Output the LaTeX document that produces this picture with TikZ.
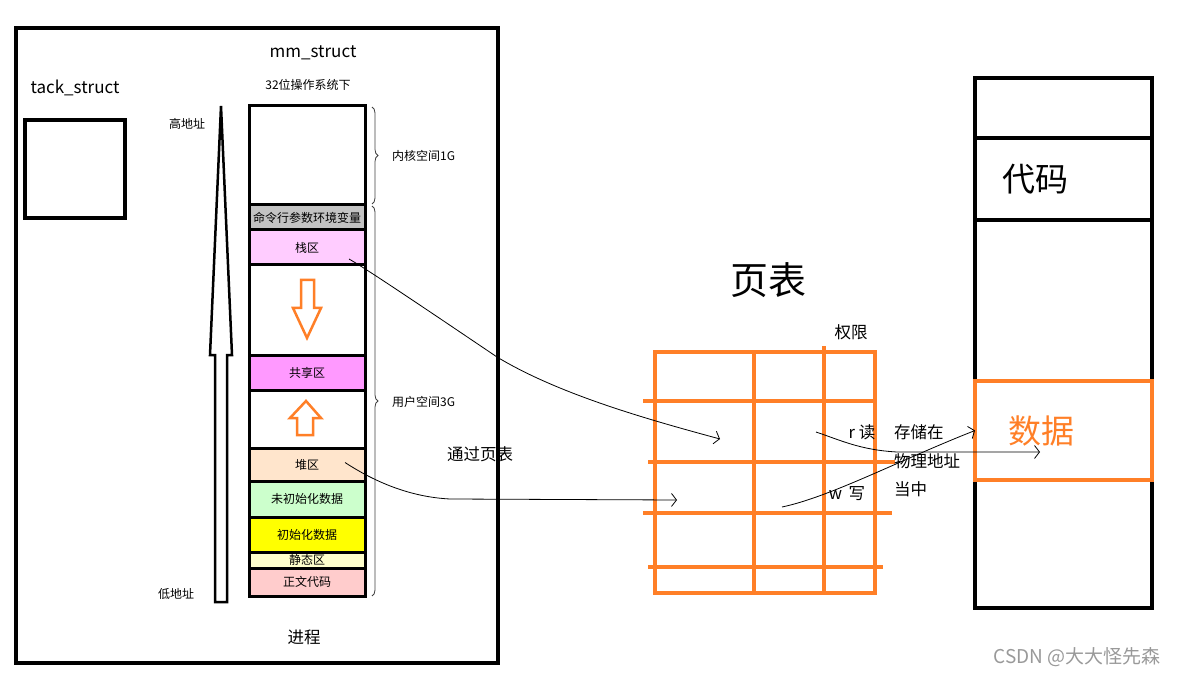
\documentclass[tikz,border=0pt]{standalone}
\usepackage{fontspec}
\setmainfont{Noto Sans CJK SC}
\usetikzlibrary{positioning, arrows.meta, calc, decorations.pathreplacing}
\definecolor{paintorange}{RGB}{255,127,39}
\definecolor{segcmd}{RGB}{195,195,195}
\definecolor{segstack}{RGB}{255,204,255}
\definecolor{segshared}{RGB}{255,153,255}
\definecolor{segheap}{RGB}{255,229,204}
\definecolor{segbss}{RGB}{204,255,204}
\definecolor{segdata}{RGB}{255,255,0}
\definecolor{segstatic}{RGB}{255,255,204}
\definecolor{segtext}{RGB}{255,204,204}

\begin{document}
\begin{tikzpicture}[
    x=1pt, y=-1pt,
    seg/.style={
        rectangle, draw=black, line width=3pt, fill=#1,
        minimum width=116pt, inner sep=0pt, outer sep=0pt,
        font=\fontsize{12}{14}\selectfont
    },
    mem/.style={
        rectangle, draw=black, line width=4pt,
        minimum width=177pt, inner sep=0pt, outer sep=0pt
    },
    frame/.style={rectangle, draw=black, line width=4pt, inner sep=0pt, outer sep=0pt},
    small/.style={font=\fontsize{12}{14}\selectfont, inner sep=0pt},
    note/.style={font=\fontsize{16.5}{18}\selectfont, inner sep=0pt},
    title/.style={font=\fontsize{17}{20}\selectfont, inner sep=0pt},
    big/.style={font=\fontsize{33}{36}\selectfont, inner sep=0pt},
    link/.style={-{Straight Barb[length=5pt, width=13pt]}, line width=0.8pt},
    tbl/.style={draw=paintorange, line width=3.5pt, line cap=rect},
    membrace/.style={decorate, decoration={brace, amplitude=6pt}, draw=black!75, line width=0.8pt},
    fatarrow/.style={draw=#1, fill=white, line width=2.5pt, line join=miter}
]
\useasboundingbox (0,0) rectangle (1178,676);

% === Process (left frame) ===
\node[frame, minimum width=482pt, minimum height=635pt, anchor=north west] (proc) at (16,28) {};
\node[note] (proclabel) at (304,637) {进程};

\node[title] (tacklabel) at (75,88) {tack\_struct};
\node[frame, minimum width=100pt, minimum height=98pt, anchor=north west] (tack) at (25,120) {};

\node[title] (mmlabel) at (313,53) {mm\_struct};
\node[small] (oslabel) at (308,85) {32位操作系统下};

% address arrow
\draw[fatarrow=black] (215,602) -- (215,355) -- (210,355) -- (221,106) -- (232,355) -- (227,355) -- (227,602) -- cycle;
\node[small] (highaddr) at (187,124) {高地址};
\node[small] (lowaddr) at (176,594) {低地址};

% virtual address space, top to bottom
\node[seg=white, minimum height=99pt, anchor=north west] (kernel) at (249,106) {};
\node[seg=segcmd, minimum height=25pt, below=0pt of kernel] (cmdenv) {命令行参数环境变量};
\node[seg=segstack, minimum height=35pt, below=0pt of cmdenv] (stack) {栈区};
\node[seg=white, minimum height=90pt, below=0pt of stack] (stackgap) {};
\node[seg=segshared, minimum height=35pt, below=0pt of stackgap] (shared) {共享区};
\node[seg=white, minimum height=58pt, below=0pt of shared] (heapgap) {};
\node[seg=segheap, minimum height=33pt, below=0pt of heapgap] (heap) {堆区};
\node[seg=segbss, minimum height=36pt, below=0pt of heap] (bss) {未初始化数据};
\node[seg=segdata, minimum height=35pt, below=0pt of bss] (initdata) {初始化数据};
\node[seg=segstatic, minimum height=16pt, below=0pt of initdata] (staticseg) {静态区};
\node[seg=segtext, minimum height=28pt, below=0pt of staticseg] (codeseg) {正文代码};

% growth arrows
\draw[fatarrow=paintorange] (301,280) -- (314,280) -- (314,308) -- (321,308) -- (307,338) -- (293,308) -- (301,308) -- cycle;
\draw[fatarrow=paintorange] (297,435) -- (313,435) -- (313,418) -- (321,418) -- (306,401) -- (290,418) -- (297,418) -- cycle;

% kernel / user braces
\draw[membrace] (372,107) -- (372,204);
\draw[membrace] (372,206) -- (372,596);
\node[small, anchor=west] (kernellabel) at (392,156) {内核空间1G};
\node[small, anchor=west] (userlabel) at (392,402) {用户空间3G};

\node[note] (vialabel) at (480,454) {通过页表};

% === Page table ===
\node[font=\fontsize{38}{40}\selectfont, inner sep=0pt] (pagetitle) at (768,280) {页表};
\node[note] (permlabel) at (851,332) {权限};

\foreach \x in {655,754,875}
    \draw[tbl] (\x,352) -- (\x,593);
\draw[tbl] (824,348) -- (824,593);
\foreach \y/\a/\b in {352/655/875, 401/645/875, 462/650/893, 513/645/890, 567/650/881, 593/655/875}
    \draw[tbl] (\a,\y) -- (\b,\y);

\node[note] (readlabel) at (862,432) {r 读};
\node[note] (writelabel) at (847,494) {w\, 写};
\node[note, anchor=west] (storelabel) at (894,432) {存储在};
\node[note, anchor=west] (physlabel) at (894,461) {物理地址};
\node[note, anchor=west] (inlabel) at (894,489) {当中};

% === Physical memory ===
\node[mem, minimum height=60pt, anchor=north west] (pmtop) at (975,78) {};
\node[mem, minimum height=82pt, below=0pt of pmtop] (pmcode) {};
\node[mem, minimum height=161pt, below=0pt of pmcode] (pmfree) {};
\node[mem, minimum height=99pt, below=0pt of pmfree] (pmdata) {};
\node[mem, minimum height=128pt, below=0pt of pmdata] (pmbottom) {};
\draw[tbl, line width=4pt, line cap=butt] (pmdata.north west) rectangle (pmdata.south east);
\node[big, right=27pt of pmcode.west] (codelabel) {代码};
\node[big, text=paintorange, right=33pt of pmdata.west] (datalabel) {数据};

% === Mapping arrows ===
\coordinate (stackpt) at ($(stack.south east)+(-16,-6)$);
\coordinate (heappt) at ($(heap.east)+(-20,-2)$);
\coordinate (cellstack) at (720,439);
\coordinate (cellheap) at (677,500);
\coordinate (readpt) at (816,432);
\coordinate (writept) at (782,507);
\coordinate (physpt) at (1040,452);

\draw[link] (stackpt) .. controls (365,268) and (420,305) .. (497,357) .. controls (560,395) and (650,420) .. (cellstack);
\draw[link] (heappt) .. controls (375,482) and (410,497) .. (450,499) -- (cellheap);
\draw[link] (readpt) .. controls (840,440) and (860,450) .. (897,452) -- (physpt);
\draw[link] (writept) .. controls (830,497) and (900,460) .. (pmdata.west);

\node[font=\fontsize{19}{21}\selectfont, text=black!40, inner sep=0pt] (mark) at (1077,657) {CSDN @大大怪先森};

\end{tikzpicture}
\end{document}
